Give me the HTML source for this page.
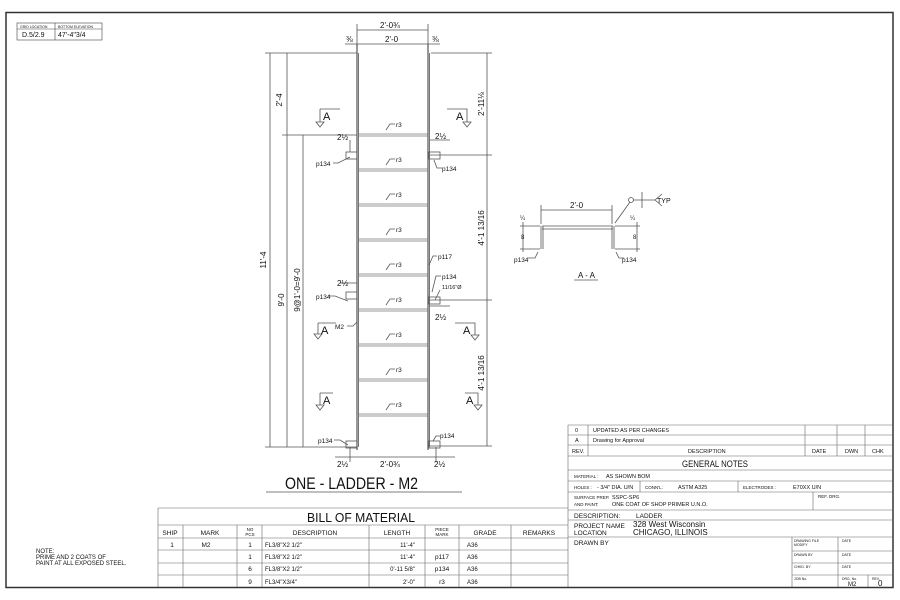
<!DOCTYPE html>
<html><head><meta charset="utf-8"><style>
html,body{margin:0;padding:0;background:#fff;}
svg{display:block;}
text{font-family:"Liberation Sans",sans-serif;fill:#111;}
</style></head><body>
<svg width="900" height="600" viewBox="0 0 900 600" xmlns="http://www.w3.org/2000/svg">
<rect x="6" y="12.5" width="887" height="575" fill="none" stroke="#333" stroke-width="1.5"/>
<g stroke="#444" stroke-width="0.6" fill="none">
<rect x="17" y="23" width="85" height="17"/><line x1="17" y1="29" x2="102" y2="29"/><line x1="55" y1="23" x2="55" y2="40"/>
</g>
<text x="20" y="28" font-size="3.5">GRID LOCATION</text><text x="58" y="28" font-size="3.5">BOTTOM ELEVATION</text>
<text x="22" y="37" font-size="7">D.5/2.9</text><text x="58" y="37" font-size="7">47'-4"3/4</text>

<g stroke="#555" fill="none" stroke-width="0.8">
<line x1="357" y1="44" x2="357" y2="450" stroke-width="1.2"/><line x1="358.5" y1="53" x2="358.5" y2="447"/>
<line x1="428" y1="44" x2="428" y2="450" stroke-width="1.2"/><line x1="429.5" y1="53" x2="429.5" y2="447"/>
<g stroke="#777">
<line x1="358" y1="134" x2="428" y2="134"/><line x1="358" y1="136" x2="428" y2="136"/>
<line x1="358" y1="169" x2="428" y2="169"/><line x1="358" y1="171" x2="428" y2="171"/>
<line x1="358" y1="204" x2="428" y2="204"/><line x1="358" y1="206" x2="428" y2="206"/>
<line x1="358" y1="239" x2="428" y2="239"/><line x1="358" y1="241" x2="428" y2="241"/>
<line x1="358" y1="274" x2="428" y2="274"/><line x1="358" y1="276" x2="428" y2="276"/>
<line x1="358" y1="309" x2="428" y2="309"/><line x1="358" y1="311" x2="428" y2="311"/>
<line x1="358" y1="344" x2="428" y2="344"/><line x1="358" y1="346" x2="428" y2="346"/>
<line x1="358" y1="379" x2="428" y2="379"/><line x1="358" y1="381" x2="428" y2="381"/>
<line x1="358" y1="414" x2="428" y2="414"/><line x1="358" y1="416" x2="428" y2="416"/>
</g>
<line x1="357" y1="30" x2="428" y2="30"/><line x1="345" y1="44" x2="440" y2="44"/>
<line x1="357" y1="24" x2="357" y2="44"/><line x1="428" y1="24" x2="428" y2="44"/>
<line x1="265" y1="53" x2="357" y2="53"/><line x1="431" y1="53" x2="492" y2="53"/>
<line x1="282" y1="135" x2="357" y2="135"/>
<line x1="430" y1="155" x2="492" y2="155"/><line x1="430" y1="300" x2="492" y2="300"/>
<line x1="265" y1="447" x2="357" y2="447"/><line x1="430" y1="446" x2="492" y2="446"/>
<line x1="270" y1="53" x2="270" y2="447"/><line x1="287" y1="53" x2="287" y2="447"/><line x1="303" y1="135" x2="303" y2="447"/>
<line x1="487" y1="53" x2="487" y2="446"/>
<line x1="335" y1="457" x2="455" y2="457"/>
<line x1="350" y1="447" x2="350" y2="462"/><line x1="436" y1="447" x2="436" y2="462"/>
<rect x="346" y="152" width="11" height="7"/><rect x="429" y="152" width="11" height="7"/>
<rect x="346" y="292" width="11" height="7"/><rect x="429" y="297" width="11" height="7"/>
<rect x="346" y="441" width="11" height="7"/><rect x="429" y="441" width="11" height="7"/>
<line x1="350" y1="140" x2="350" y2="152"/><line x1="430" y1="140" x2="450" y2="140"/><line x1="430" y1="306" x2="450" y2="306"/><line x1="340" y1="283" x2="357" y2="283"/>
<path d="M320 109 H340 M320 109 V122 M316 122 L324 122 L320 127 Z"/>
<path d="M447 109 H467 V122 M463 122 L471 122 L467 127 Z"/>
<path d="M318 323 H336 M318 323 V334 M314 334 L322 334 L318 339 Z"/>
<path d="M455 323 H475 V335 M471 335 L479 335 L475 340 Z"/>
<path d="M320 393 H333 M320 393 V405 M316 405 L324 405 L320 410 Z"/>
<path d="M465 393 H478 V405 M474 405 L482 405 L478 410 Z"/>
<path d="M386 130 L390 124 H395"/><path d="M386 165 L390 159 H395"/><path d="M386 200 L390 194 H395"/><path d="M386 235 L390 229 H395"/><path d="M386 270 L390 264 H395"/><path d="M386 305 L390 299 H395"/><path d="M386 340 L390 334 H395"/><path d="M386 375 L390 369 H395"/><path d="M386 410 L390 404 H395"/>
<path d="M333 163 H338 L350 157"/><path d="M434 160 L437 168 H442"/><path d="M328 296 H335 L348 301"/>
<path d="M429 265 L433 256 H437"/><path d="M432 292 L436 276 H441"/><path d="M435 300 L440 290"/>
<path d="M347 326 H353 L357 322"/><path d="M334 440 H340 L348 445"/><path d="M433 441 L436 436 H440"/>
<line x1="266" y1="492" x2="462" y2="492"/>
</g>
<g font-size="8">
<text x="380" y="28">2'-0¾</text><text x="385" y="42">2'-0</text>
<text x="346" y="42">⅜</text><text x="432" y="42">⅜</text>
<text x="282" y="100" transform="rotate(-90 282 100)" text-anchor="middle">2'-4</text>
<text x="266" y="260" transform="rotate(-90 266 260)" text-anchor="middle">11'-4</text>
<text x="284" y="300" transform="rotate(-90 284 300)" text-anchor="middle">9'-0</text>
<text x="300" y="290" transform="rotate(-90 300 290)" text-anchor="middle">9@1'-0=9'-0</text>
<text x="484" y="104" transform="rotate(-90 484 104)" text-anchor="middle">2'-11⅛</text>
<text x="484" y="228" transform="rotate(-90 484 228)" text-anchor="middle">4'-1 13/16</text>
<text x="484" y="373" transform="rotate(-90 484 373)" text-anchor="middle">4'-1 13/16</text>
<text x="337" y="140">2½</text><text x="435" y="139">2½</text>
<text x="337" y="286">2½</text><text x="435" y="320">2½</text>
<text x="337" y="467">2½</text><text x="380" y="467">2'-0¾</text><text x="434" y="467">2½</text>
<text x="323" y="120" font-size="11">A</text><text x="456" y="120" font-size="11">A</text>
<text x="321" y="334" font-size="11">A</text><text x="463" y="334" font-size="11">A</text>
<text x="323" y="404" font-size="11">A</text><text x="466" y="404" font-size="11">A</text>
</g>
<g font-size="6.5">
<text x="396" y="127">r3</text><text x="396" y="162">r3</text><text x="396" y="197">r3</text><text x="396" y="232">r3</text><text x="396" y="267">r3</text><text x="396" y="302">r3</text><text x="396" y="337">r3</text><text x="396" y="372">r3</text><text x="396" y="407">r3</text>
<text x="316" y="166">p134</text><text x="442" y="171">p134</text>
<text x="316" y="299">p134</text><text x="438" y="259">p117</text><text x="442" y="279">p134</text><text x="442" y="289" font-size="5.5">11/16"Ø</text>
<text x="335" y="329">M2</text>
<text x="318" y="443">p134</text><text x="440" y="438">p134</text>
</g>
<text x="285" y="489" font-size="17" textLength="133" lengthAdjust="spacingAndGlyphs">ONE - LADDER - M2</text>

<g stroke="#555" fill="none" stroke-width="0.8">
<line x1="542" y1="226" x2="613" y2="226"/><line x1="542" y1="229" x2="613" y2="229"/>
<line x1="541" y1="226" x2="541" y2="249"/><line x1="543" y1="226" x2="543" y2="249"/>
<line x1="612" y1="226" x2="612" y2="249"/><line x1="614" y1="226" x2="614" y2="249"/>
<line x1="541" y1="210" x2="612" y2="210"/><line x1="541" y1="205" x2="541" y2="224"/><line x1="612" y1="205" x2="612" y2="224"/>
<line x1="520" y1="226" x2="540" y2="226"/><line x1="520" y1="249" x2="540" y2="249"/><line x1="523" y1="222" x2="523" y2="252"/>
<line x1="615" y1="226" x2="640" y2="226"/><line x1="615" y1="249" x2="640" y2="249"/><line x1="637" y1="222" x2="637" y2="252"/>
<path d="M615 223 L630 202"/><circle cx="631" cy="200" r="2.5"/>
<path d="M633 200 H655 L662 194 M655 200 L662 206 M642 192 V208"/>
<path d="M528 258 H535 L538 252"/><path d="M616 252 L619 258 H624"/>
<line x1="574" y1="280" x2="598" y2="280"/>
</g>
<text x="570" y="208" font-size="8">2'-0</text><text x="657" y="203" font-size="7">TYP</text>
<text x="520" y="220" font-size="6">¼</text><text x="630" y="220" font-size="6">¼</text>
<text x="521" y="239" font-size="6">8</text><text x="633" y="239" font-size="6">8</text>
<text x="514" y="262" font-size="6.5">p134</text><text x="622" y="262" font-size="6.5">p134</text>
<text x="578" y="278" font-size="8">A - A</text>

<g font-size="6"><text x="36" y="553">NOTE:</text><text x="36" y="559">PRIME AND 2 COATS OF</text><text x="36" y="565">PAINT AT ALL EXPOSED STEEL.</text></g>

<g stroke="#666" stroke-width="0.6" fill="none">
<line x1="158" y1="508" x2="568" y2="508"/><line x1="158" y1="525" x2="568" y2="525"/><line x1="158" y1="538" x2="568" y2="538"/>
<line x1="158" y1="550" x2="568" y2="550"/><line x1="158" y1="563" x2="568" y2="563"/><line x1="158" y1="575" x2="568" y2="575"/>
<line x1="158" y1="508" x2="158" y2="587"/>
<line x1="183" y1="525" x2="183" y2="587"/><line x1="237" y1="525" x2="237" y2="587"/><line x1="262" y1="525" x2="262" y2="587"/>
<line x1="369" y1="525" x2="369" y2="587"/><line x1="425" y1="525" x2="425" y2="587"/><line x1="459" y1="525" x2="459" y2="587"/><line x1="511" y1="525" x2="511" y2="587"/>
</g>
<text x="307" y="522" font-size="13" textLength="108" lengthAdjust="spacingAndGlyphs">BILL OF MATERIAL</text>
<g font-size="6.5" text-anchor="middle">
<text x="170" y="535">SHIP</text><text x="210" y="535">MARK</text><text x="250" y="531" font-size="4.5">NO</text><text x="250" y="536" font-size="4.5">PCS</text><text x="315" y="535">DESCRIPTION</text><text x="397" y="535">LENGTH</text><text x="442" y="531" font-size="4.5">PIECE</text><text x="442" y="536" font-size="4.5">MARK</text><text x="485" y="535">GRADE</text><text x="539" y="535">REMARKS</text>
<text x="172" y="547">1</text><text x="206" y="547">M2</text><text x="250" y="547">1</text><text x="250" y="559">1</text><text x="250" y="571">6</text><text x="250" y="584">9</text>
<text x="442" y="559">p117</text><text x="442" y="571">p134</text><text x="442" y="584">r3</text>
</g>
<g font-size="6">
<text x="265" y="547">FL3/8"X2 1/2"</text><text x="265" y="559">FL3/8"X2 1/2"</text><text x="265" y="571">FL3/8"X2 1/2"</text><text x="265" y="584">FL3/4"X3/4"</text>
<text x="415" y="547" text-anchor="end">11'-4"</text><text x="415" y="559" text-anchor="end">11'-4"</text><text x="415" y="571" text-anchor="end">0'-11 5/8"</text><text x="415" y="584" text-anchor="end">2'-0"</text>
<text x="467" y="547">A36</text><text x="467" y="559">A36</text><text x="467" y="571">A36</text><text x="467" y="584">A36</text>
</g>

<g stroke="#666" stroke-width="0.6" fill="none">
<line x1="568" y1="425" x2="568" y2="587"/>
<line x1="568" y1="425" x2="893" y2="425"/><line x1="568" y1="435" x2="893" y2="435"/><line x1="568" y1="445" x2="893" y2="445"/><line x1="568" y1="456" x2="893" y2="456"/>
<line x1="568" y1="470" x2="893" y2="470"/><line x1="568" y1="481" x2="893" y2="481"/><line x1="568" y1="492" x2="893" y2="492"/><line x1="568" y1="510" x2="893" y2="510"/><line x1="568" y1="520" x2="893" y2="520"/><line x1="568" y1="537" x2="893" y2="537"/>
<line x1="588" y1="425" x2="588" y2="456"/><line x1="805" y1="425" x2="805" y2="456"/><line x1="837" y1="425" x2="837" y2="456"/><line x1="865" y1="425" x2="865" y2="456"/>
<line x1="640" y1="481" x2="640" y2="492"/><line x1="738" y1="481" x2="738" y2="492"/><line x1="813" y1="492" x2="813" y2="510"/>
<line x1="792" y1="537" x2="792" y2="587"/><line x1="838" y1="537" x2="838" y2="587"/><line x1="868" y1="575" x2="868" y2="587"/>
<line x1="792" y1="551" x2="893" y2="551"/><line x1="792" y1="563" x2="893" y2="563"/><line x1="792" y1="575" x2="893" y2="575"/>
</g>
<g font-size="5.5">
<text x="575" y="432">0</text><text x="593" y="432">UPDATED AS PER CHANGES</text>
<text x="575" y="442">A</text><text x="593" y="442">Drawing for Approval</text>
<text x="572" y="453">REV.</text><text x="688" y="453">DESCRIPTION</text><text x="812" y="453">DATE</text><text x="845" y="453">DWN</text><text x="872" y="453">CHK</text>
<text x="574" y="478" font-size="4.5">MATERIAL :</text><text x="606" y="478">AS SHOWN BOM</text>
<text x="574" y="489" font-size="4.5">HOLES :</text><text x="597" y="489">-   3/4"  DIA. U/N</text><text x="645" y="489" font-size="4.5">CONN'L:</text><text x="678" y="489">ASTM A325</text><text x="743" y="489" font-size="4.5">ELECTRODES :</text><text x="793" y="489">E70XX U/N</text>
<text x="574" y="499" font-size="4.5">SURFACE PREP.</text><text x="612" y="499">SSPC-SP6</text><text x="574" y="506" font-size="4.5">AND PAINT:</text><text x="612" y="506">ONE COAT OF SHOP PRIMER U.N.O.</text><text x="818" y="498" font-size="4.5">REF. DRG.</text>
<text x="574" y="518" font-size="6.5">DESCRIPTION:</text><text x="636" y="518" font-size="6.5">LADDER</text>
<text x="574" y="528" font-size="6.5">PROJECT NAME</text><text x="633" y="527" font-size="8">328 West Wisconsin</text>
<text x="574" y="535" font-size="6.5">LOCATION</text><text x="633" y="535" font-size="8">CHICAGO, ILLINOIS</text>
<text x="574" y="545" font-size="6.5">DRAWN BY</text>
<text x="794" y="542" font-size="3.5">DRAWING FILE</text><text x="794" y="546" font-size="3.5">MODIFY</text><text x="842" y="542" font-size="3.5">DATE</text>
<text x="794" y="556" font-size="3.5">DRAWN BY</text><text x="842" y="556" font-size="3.5">DATE</text>
<text x="794" y="568" font-size="3.5">CHKD. BY</text><text x="842" y="568" font-size="3.5">DATE</text>
<text x="794" y="580" font-size="3.5">JOB No.</text><text x="842" y="580" font-size="3.5">DRG. No.</text><text x="872" y="580" font-size="3.5">REV.</text>
<text x="848" y="586" font-size="6">M2</text><text x="878" y="586" font-size="8">0</text>
</g>
<text x="682" y="467" font-size="9" textLength="66" lengthAdjust="spacingAndGlyphs">GENERAL NOTES</text>
</svg>
</body></html>
